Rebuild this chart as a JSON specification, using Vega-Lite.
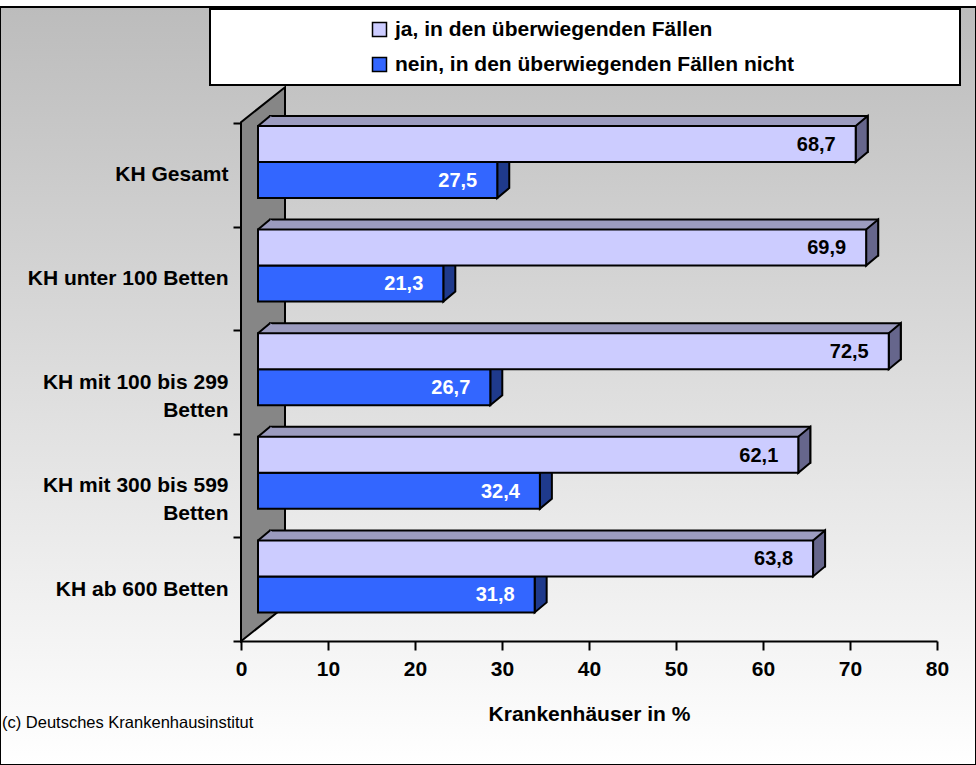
{
  "$schema": "https://vega.github.io/schema/vega-lite/v6.json",
  "width": 976,
  "height": 758,
  "autosize": {"type": "none"},
  "padding": {"left": 0, "top": 7, "right": 0, "bottom": 0},
  "background": "white",
  "view": {
    "fill": {"gradient": "linear", "x1": 0, "y1": 0, "x2": 0, "y2": 1, "stops": [{"offset": 0, "color": "#bcbcbc"}, {"offset": 1, "color": "#ffffff"}]},
    "stroke": "black",
    "strokeWidth": 2
  },
  "config": {
    "font": "Liberation Sans",
    "locale": {"number": {"decimal": ",", "thousands": ".", "grouping": [3], "currency": ["", " €"]}}
  },
  "title": {
    "text": "(c) Deutsches Krankenhausinstitut",
    "orient": "bottom",
    "anchor": "start",
    "frame": "group",
    "offset": -50,
    "dx": 2,
    "fontSize": 16.5,
    "fontWeight": "normal",
    "color": "black",
    "font": "Liberation Sans"
  },
  "data": {
    "values": [
      {"cat": "KH Gesamt", "series": "ja, in den überwiegenden Fällen", "value": 68.7},
      {"cat": "KH Gesamt", "series": "nein, in den überwiegenden Fällen nicht", "value": 27.5},
      {"cat": "KH unter 100 Betten", "series": "ja, in den überwiegenden Fällen", "value": 69.9},
      {"cat": "KH unter 100 Betten", "series": "nein, in den überwiegenden Fällen nicht", "value": 21.3},
      {"cat": "KH mit 100 bis 299 Betten", "series": "ja, in den überwiegenden Fällen", "value": 72.5},
      {"cat": "KH mit 100 bis 299 Betten", "series": "nein, in den überwiegenden Fällen nicht", "value": 26.7},
      {"cat": "KH mit 300 bis 599 Betten", "series": "ja, in den überwiegenden Fällen", "value": 62.1},
      {"cat": "KH mit 300 bis 599 Betten", "series": "nein, in den überwiegenden Fällen nicht", "value": 32.4},
      {"cat": "KH ab 600 Betten", "series": "ja, in den überwiegenden Fällen", "value": 63.8},
      {"cat": "KH ab 600 Betten", "series": "nein, in den überwiegenden Fällen nicht", "value": 31.8}
    ]
  },
  "encoding": {
    "y": {
      "field": "cat",
      "type": "nominal",
      "sort": null,
      "scale": {
        "domain": ["KH Gesamt", "KH unter 100 Betten", "KH mit 100 bis 299 Betten", "KH mit 300 bis 599 Betten", "KH ab 600 Betten"],
        "range": [116, 634],
        "paddingInner": 0,
        "paddingOuter": 0
      },
      "axis": {
        "orient": "left",
        "offset": -241,
        "domain": false,
        "ticks": true,
        "tickBand": "extent",
        "tickSize": 8,
        "tickWidth": 2,
        "tickColor": "black",
        "labelFontSize": 21,
        "labelFontWeight": "bold",
        "labelColor": "black",
        "labelPadding": 5,
        "labelLineHeight": 28,
        "labelLimit": 400,
        "labelExpr": "indexof(datum.label, ' bis ') > 0 ? [slice(datum.label, 0, 18), 'Betten'] : datum.label",
        "grid": false
      },
      "title": null
    },
    "x": {
      "field": "value",
      "type": "quantitative",
      "scale": {"domain": [0, 80], "range": [241, 937], "nice": false, "zero": true},
      "axis": {
        "orient": "bottom",
        "offset": -124,
        "values": [0, 10, 20, 30, 40, 50, 60, 70, 80],
        "format": "d",
        "domainColor": "black",
        "domainWidth": 2,
        "tickColor": "black",
        "tickWidth": 2,
        "tickSize": 9,
        "labelFontSize": 21,
        "labelFontWeight": "bold",
        "labelColor": "black",
        "labelPadding": 8,
        "labelFlush": false,
        "titleFontSize": 21,
        "titleFontWeight": "bold",
        "titleColor": "black",
        "titlePadding": 24,
        "grid": false
      },
      "title": "Krankenhäuser in %"
    }
  },
  "layer": [
    {
      "transform": [{"filter": "datum.cat == 'KH ab 600 Betten' && indexof(datum.series, 'nicht') < 0"}],
      "mark": {"type": "point", "shape": "M0,52L0,-467L44,-502L44,17Z", "size": 4, "filled": true, "fill": "#868686", "stroke": "black", "strokeWidth": 2, "strokeJoin": "miter", "opacity": 1},
      "encoding": {"x": {"datum": 0}}
    },
    {
      "transform": [{"filter": "indexof(datum.series, 'nicht') >= 0"}],
      "mark": {"type": "point", "shape": "M0,-18L12,-28L12,8L0,18Z", "size": 4, "filled": true, "fill": "#1f3a8c", "stroke": "black", "strokeWidth": 2, "strokeJoin": "miter", "opacity": 1, "xOffset": 17, "yOffset": 5.2}
    },
    {
      "transform": [{"filter": "indexof(datum.series, 'nicht') >= 0"}],
      "mark": {"type": "bar", "height": 36, "xOffset": 17, "yOffset": 5.2, "stroke": "black", "strokeWidth": 2, "opacity": 1},
      "encoding": {
        "color": {
          "field": "series",
          "type": "nominal",
          "scale": {"domain": ["ja, in den überwiegenden Fällen", "nein, in den überwiegenden Fällen nicht"], "range": ["#ccccff", "#3366ff"]},
          "legend": {
            "title": null,
            "orient": "none",
            "legendX": 210,
            "legendY": 2,
            "direction": "vertical",
            "fillColor": "white",
            "strokeColor": "black",
            "padding": 10,
            "symbolOffset": 149,
            "rowPadding": 13,
            "labelFontSize": 21,
            "labelFontWeight": "bold",
            "labelColor": "black",
            "labelOffset": 5,
            "labelLimit": 600,
            "symbolType": "M-1,-1H1V1H-1Z M81,0",
            "symbolSize": 196,
            "symbolStrokeColor": "black",
            "symbolStrokeWidth": 1.5,
            "symbolOpacity": 1,
            "encode": {"legend": {"update": {"strokeWidth": {"value": 2}}}}
          }
        }
      }
    },
    {
      "transform": [{"filter": "indexof(datum.series, 'nicht') >= 0"}],
      "mark": {"type": "text", "align": "right", "baseline": "middle", "xOffset": -3, "yOffset": 6, "fontSize": 20, "fontWeight": "bold", "color": "white"},
      "encoding": {"text": {"field": "value", "type": "quantitative", "format": ".1f"}}
    },
    {
      "transform": [{"filter": "indexof(datum.series, 'nicht') < 0"}],
      "mark": {"type": "bar", "height": 36, "xOffset": 29, "yOffset": -40.8, "fill": "#9b9bbf", "stroke": "black", "strokeWidth": 2, "opacity": 1}
    },
    {
      "transform": [{"filter": "indexof(datum.series, 'nicht') < 0"}],
      "mark": {"type": "point", "shape": "M0,-18L12,-28L12,8L0,18Z", "size": 4, "filled": true, "fill": "#66668c", "stroke": "black", "strokeWidth": 2, "strokeJoin": "miter", "opacity": 1, "xOffset": 17, "yOffset": -30.8}
    },
    {
      "transform": [{"filter": "indexof(datum.series, 'nicht') < 0"}],
      "mark": {"type": "point", "shape": "M0,-18L12,-28L14,-27L14,-18Z", "size": 4, "filled": true, "fill": "#9b9bbf", "strokeWidth": 0, "opacity": 1, "xOffset": 17, "yOffset": -30.8},
      "encoding": {"x": {"datum": 0}}
    },
    {
      "transform": [{"filter": "indexof(datum.series, 'nicht') < 0"}],
      "mark": {"type": "point", "shape": "M0,-18L12,-28", "size": 4, "filled": false, "stroke": "black", "strokeWidth": 2, "opacity": 1, "xOffset": 17, "yOffset": -30.8},
      "encoding": {"x": {"datum": 0}}
    },
    {
      "transform": [{"filter": "indexof(datum.series, 'nicht') < 0"}],
      "mark": {"type": "bar", "height": 36, "xOffset": 17, "yOffset": -30.8, "stroke": "black", "strokeWidth": 2, "opacity": 1},
      "encoding": {
        "color": {
          "field": "series",
          "type": "nominal",
          "scale": {"domain": ["ja, in den überwiegenden Fällen", "nein, in den überwiegenden Fällen nicht"], "range": ["#ccccff", "#3366ff"]},
          "legend": {
            "title": null,
            "orient": "none",
            "legendX": 210,
            "legendY": 2,
            "direction": "vertical",
            "fillColor": "white",
            "strokeColor": "black",
            "padding": 10,
            "symbolOffset": 149,
            "rowPadding": 13,
            "labelFontSize": 21,
            "labelFontWeight": "bold",
            "labelColor": "black",
            "labelOffset": 5,
            "labelLimit": 600,
            "symbolType": "M-1,-1H1V1H-1Z M81,0",
            "symbolSize": 196,
            "symbolStrokeColor": "black",
            "symbolStrokeWidth": 1.5,
            "symbolOpacity": 1,
            "encode": {"legend": {"update": {"strokeWidth": {"value": 2}}}}
          }
        }
      }
    },
    {
      "transform": [{"filter": "indexof(datum.series, 'nicht') < 0"}],
      "mark": {"type": "text", "align": "right", "baseline": "middle", "xOffset": -3, "yOffset": -30, "fontSize": 20, "fontWeight": "bold", "color": "black"},
      "encoding": {"text": {"field": "value", "type": "quantitative", "format": ".1f"}}
    }
  ]
}
